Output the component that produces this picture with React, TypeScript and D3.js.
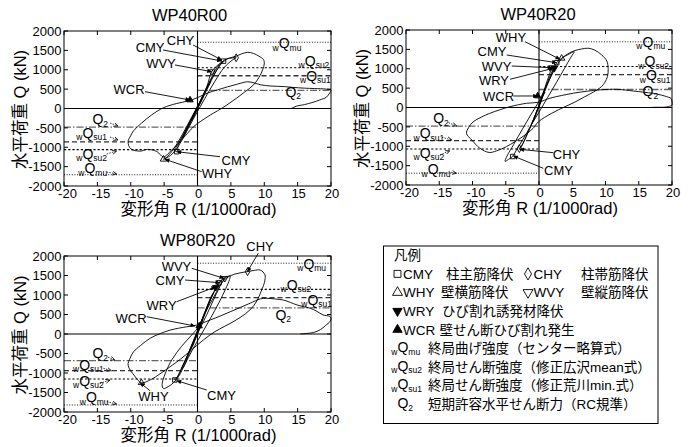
import React from 'react';
import * as d3 from 'd3';

type Pt = [number, number];

// axis ticks
const xTicks = [-20, -15, -10, -5, 0, 5, 10, 15, 20];
const yTicks = [2000, 1500, 1000, 500, 0, -500, -1000, -1500, -2000];

// hysteresis curves, R in 1/1000rad, Q in kN
const curveR00: Pt[] = [
  [0, 0], [0.4, 150], [0.9, 330], [0.6, 250], [0.1, 60], [-0.4, -120], [-0.9, -300], [-0.6, -230], [-0.1, -40],
  [0.5, 160], [1.3, 450], [2.0, 700], [1.7, 640], [0.9, 350], [0, 60], [-0.8, -230], [-1.6, -520], [-2.3, -760], [-2.0, -700], [-1.1, -380], [-0.2, -60],
  [0.6, 230], [1.4, 560], [2.13, 950], [2.9, 1100], [3.9, 1220], [3.5, 1160], [2.5, 870], [1.3, 470], [0.2, 90], [-0.9, -260], [-2.0, -630], [-2.8, -900], [-3.12, -1115], [-3.4, -1080], [-2.5, -820], [-1.2, -400], [0, 20],
  [0.9, 360], [2.0, 760], [3.0, 1080], [4.2, 1270], [5.0, 1300], [5.8, 1310], [5.3, 1260], [4.0, 1060], [2.6, 700], [1.1, 260], [-0.3, -170], [-1.6, -580], [-2.9, -980], [-4.1, -1220], [-5.1, -1310], [-4.7, -1270], [-3.6, -1050], [-2.3, -680], [-0.9, -230], [0.2, 120],
  [1.2, 480], [2.5, 880], [3.6, 1160], [4.6, 1290], [5.8, 1350], [6.6, 1410], [7.5, 1450], [8.4, 1420], [9.2, 1350], [9.9, 1260], [10.0, 1150], [9.8, 1020], [9.4, 860], [8.4, 610], [7.1, 430], [5.8, 260], [4.4, 90], [3.0, -60], [1.9, -170], [0.4, -340], [-0.6, -470], [-1.8, -700], [-3.0, -920], [-4.2, -1130], [-5.1, -1250], [-6.1, -1110], [-7.5, -1055], [-8.6, -1100], [-10.0, -1040], [-10.4, -860],
  [-10.0, -700], [-9.6, -580], [-8.4, -380], [-6.9, -170], [-5.1, 20], [-3.1, 130], [-1.4, 195], [0, 280], [1.5, 400], [3.0, 480], [4.5, 560], [6.0, 630], [7.5, 690], [8.5, 660], [9.5, 610], [11, 580], [13, 565], [14.3, 545], [16, 525], [17.5, 515], [19.3, 500], [20, 470], [19.8, 400], [19.3, 290], [18.3, 220], [17.3, 160], [16, 100], [14.8, 60], [14.3, 20], [14, 0],
];

const curveR20: Pt[] = [
  [0, 0], [0.3, 150], [0.7, 330], [0.9, 400], [0.6, 330], [0.1, 120], [-0.3, -80], [-0.8, -300], [-1.0, -380], [-0.7, -300], [-0.2, -60],
  [0.3, 200], [0.9, 520], [1.5, 820], [2.0, 1030], [2.3, 1010], [2.0, 900], [1.2, 560], [0.2, 140], [-0.8, -300], [-1.8, -700], [-2.6, -980], [-2.96, -1060], [-2.7, -1020], [-1.8, -700], [-0.7, -250], [0.2, 130],
  [1.0, 520], [1.8, 870], [2.3, 1030], [2.66, 1156], [3.4, 1270], [4.3, 1360], [5.3, 1440], [4.8, 1300], [3.8, 1000], [2.6, 640], [1.3, 260], [0, -120], [-1.2, -460], [-2.4, -820], [-3.4, -1100], [-3.96, -1260], [-4.6, -1340], [-5.1, -1390], [-4.8, -1250], [-3.8, -950], [-2.5, -560], [-1.2, -180], [0, 160],
  [1.0, 520], [2.2, 930], [3.4, 1260], [4.5, 1400], [5.4, 1470], [6.4, 1510], [7.4, 1530], [8.4, 1480], [9.4, 1360], [10.2, 1200], [10.4, 1000], [10.3, 800], [9.9, 650], [9.4, 540], [8.2, 400], [6.9, 280], [5.4, 140], [3.9, 20], [1.9, -150], [-0.1, -370], [-0.9, -540], [-2.1, -710], [-3.6, -880], [-4.9, -1010], [-6.4, -1120], [-7.5, -1160], [-8.9, -1050], [-10.1, -840], [-10.9, -670],
  [-10.6, -520], [-9.9, -370], [-8.7, -250], [-7.4, -150], [-5.9, -60], [-4.4, 20], [-3.1, 70], [-1.85, 110], [-0.1, 135], [1.65, 240], [3.4, 310], [5.2, 370], [7.2, 420], [9.2, 455], [10.5, 468], [11.7, 470], [13, 450], [14.2, 425], [15.7, 395], [17.2, 365], [18.4, 320], [19.2, 280], [19.85, 235], [20, 150], [20, 64], [19.5, 25], [18.9, 8], [17.4, 5], [16.8, 0],
];

const curveR80: Pt[] = [
  [0, 0], [0.3, 150], [0.8, 380], [0.5, 280], [0, 80], [-0.5, -150], [-1.0, -380], [-0.7, -300], [-0.2, -80],
  [0.4, 200], [1.2, 550], [2.0, 900], [2.4, 1050], [2.1, 980], [1.1, 560], [0.1, 120], [-0.8, -250], [-1.7, -640], [-2.4, -900], [-2.1, -850], [-1.2, -480], [-0.2, -60],
  [0.6, 300], [1.6, 750], [2.5, 1100], [2.9, 1250], [3.2, 1316], [3.7, 1400], [4.1, 1440], [3.6, 1300], [2.6, 950], [1.4, 500], [0.2, 80], [-0.9, -320], [-2.0, -750], [-2.8, -1050], [-3.4, -1180], [-3.1, -1120], [-2.2, -800], [-1.0, -350], [0.1, 100],
  [1.2, 600], [2.4, 1050], [3.4, 1330], [4.2, 1450], [4.9, 1490], [4.8, 1400], [4.2, 1150], [3.2, 800], [2.0, 420], [0.6, 0], [-0.8, -420], [-1.9, -780], [-2.8, -1080], [-3.6, -1250], [-4.4, -1350], [-5.1, -1400], [-5.3, -1300], [-4.8, -1000], [-3.8, -650], [-2.4, -320], [-1.0, -50], [0, 150],
  [1.2, 560], [2.6, 1000], [3.8, 1350], [5.0, 1500], [6.2, 1560], [7.5, 1600], [8.5, 1630], [9.4, 1640], [10.1, 1520], [10.1, 1380], [9.9, 1250], [9.5, 1080], [9.1, 920], [8.4, 720], [7.2, 520], [5.5, 330], [4.0, 190], [2.6, 60], [0.9, -150], [-0.9, -410], [-2.6, -650], [-4.1, -840], [-5.6, -1020], [-7.0, -1170], [-8.4, -1250], [-9.4, -1080], [-10.4, -800],
  [-10.1, -620], [-9.6, -460], [-8.5, -290], [-7.1, -110], [-5.6, 10], [-4.1, 100], [-2.8, 150], [-1.6, 185], [-0.1, 230], [1.9, 360], [3.4, 460], [4.9, 570], [6.4, 680], [7.9, 790], [9.4, 900], [10.3, 915], [11.5, 900], [12.9, 870], [13.9, 810], [14.9, 745], [15.9, 700], [16.9, 660], [17.9, 580], [18.8, 490], [19.8, 450], [20, 400], [19.85, 320], [19.2, 220], [18.4, 110], [17.4, 40], [16.4, 15], [15.4, 0],
];

// strength levels: wQmu, wQsu2, wQsu1, Q2
const levelKinds = ['mu', 'su2', 'su1', 'q2'];
const posLevelsR00 = [1710, 1050, 845, 470];
const negLevelsR00 = [-1710, -1060, -860, -480];
const posLevelsR20 = [1695, 1060, 850, 465];
const negLevelsR20 = [-1695, -1070, -855, -480];
const posLevelsR80 = [1815, 1145, 932, 670];
const negLevelsR80 = [-1820, -1155, -940, -684];

// level labels on the right [x, y] and on the left [x, y, arrow x1, y1, x2, y2]
const rightLabelsR00 = [[13.0, 1680], [16.9, 1230], [17.1, 850], [14.0, 434]];
const leftLabelsR00 = [
  [-16.1, -1540, -13.6, -1639, -12.1, -1690],
  [-16.4, -1165, -13.6, -1174, -12.1, -1097],
  [-16.4, -632, -13.1, -735, -11.9, -813],
  [-14.9, -271, -13.1, -374, -11.9, -452],
];
const rightLabelsR20 = [[16.4, 1700], [16.7, 1200], [16.9, 830], [16.4, 420]];
const leftLabelsR20 = [
  [-15.9, -1590, -13.6, -1657, -12.4, -1698],
  [-17.1, -1165, -14.9, -1226, -13.4, -1115],
  [-17.1, -660, -14.6, -769, -13.1, -839],
  [-15.1, -279, -13.6, -392, -12.4, -477],
];
const rightLabelsR80 = [[16.7, 1800], [14.2, 1260], [17.3, 880], [12.5, 500]];
const leftLabelsR80 = [
  [-15.9, -1625, -13.6, -1736, -12.1, -1795],
  [-16.9, -1205, -14.6, -1264, -13.1, -1179],
  [-16.9, -790, -14.1, -879, -12.9, -941],
  [-14.9, -495, -13.4, -597, -12.4, -667],
];

// event markers
type Mk = { kind: string; x: number; y: number };
const markersR00: Mk[] = [
  { kind: 'CMY', x: 3.9, y: 1222 }, { kind: 'CHY', x: 5.8, y: 1310 }, { kind: 'WVY', x: 2.13, y: 950 },
  { kind: 'WCR', x: -1.12, y: 219 }, { kind: 'CMY', x: -3.12, y: -1115 }, { kind: 'WHY', x: -5.1, y: -1310 },
];
const markersR20: Mk[] = [
  { kind: 'WHY', x: 3.4, y: 1270 }, { kind: 'CMY', x: 2.66, y: 1156 }, { kind: 'WVY', x: 2.0, y: 1030 },
  { kind: 'WRY', x: 2.3, y: 1010 }, { kind: 'WCR', x: -0.2, y: 297 }, { kind: 'CHY', x: -2.96, y: -1060 },
  { kind: 'CMY', x: -3.96, y: -1265 },
];
const markersR80: Mk[] = [
  { kind: 'CHY', x: 7.5, y: 1598 }, { kind: 'WVY', x: 4.09, y: 1427 }, { kind: 'CMY', x: 3.24, y: 1316 },
  { kind: 'WRY', x: 2.74, y: 1197 }, { kind: 'WCR', x: 0.25, y: 205 }, { kind: 'CMY', x: -3.4, y: -1179 },
  { kind: 'WHY', x: -8.4, y: -1250 },
];

// callouts: label centre and arrow, all in data units
type Note = { text: string; tx: number; ty: number; x1: number; y1: number; x2: number; y2: number };
const notesR00: Note[] = [
  { text: 'CHY', tx: -2.55, ty: 1768, x1: -0.67, y1: 1639, x2: 3.63, y2: 1252 },
  { text: 'CMY', tx: -7.1, ty: 1587, x1: -5.17, y1: 1510, x2: 3.63, y2: 1226 },
  { text: 'WVY', tx: -5.47, ty: 1174, x1: -3.37, y1: 1123, x2: 2.13, y2: 950 },
  { text: 'WCR', tx: -10.26, ty: 503, x1: -7.87, y1: 434, x2: -1.12, y2: 219 },
  { text: 'CMY', tx: 5.77, ty: -1329, x1: 3.37, y1: -1244, x2: -3.12, y2: -1115 },
  { text: 'WHY', tx: 2.92, ty: -1665, x1: 0.63, y1: -1631, x2: -4.87, y2: -1311 },
];
const notesR20: Note[] = [
  { text: 'WHY', tx: -4.21, ty: 1819, x1: -2.1, y1: 1698, x2: 3.16, y2: 1244 },
  { text: 'CMY', tx: -7.07, ty: 1440, x1: -4.86, y1: 1355, x2: 2.66, y2: 1156 },
  { text: 'WVY', tx: -6.39, ty: 1071, x1: -4.1, y1: 1071, x2: 2.0, y2: 1027 },
  { text: 'WRY', tx: -6.77, ty: 710, x1: -4.36, y1: 728, x2: 2.15, y2: 1012 },
  { text: 'WCR', tx: -6.09, ty: 279, x1: -3.86, y1: 297, x2: -0.2, y2: 297 },
  { text: 'CHY', tx: 4.14, ty: -1200, x1: 2.15, y1: -1166, x2: -2.93, y2: -1079 },
  { text: 'CMY', tx: 2.93, ty: -1631, x1: 0.65, y1: -1569, x2: -3.86, y2: -1252 },
];
const notesR80: Note[] = [
  { text: 'CHY', tx: 9.36, ty: 2238, x1: 9.1, y1: 2069, x2: 7.46, y2: 1597 },
  { text: 'WVY', tx: -3.15, ty: 1726, x1: -0.87, y1: 1685, x2: 3.97, y2: 1428 },
  { text: 'CMY', tx: -4.12, ty: 1385, x1: -1.87, y1: 1385, x2: 3.37, y2: 1315 },
  { text: 'WRY', tx: -5.39, ty: 744, x1: -3.12, y1: 828, x2: 2.77, y2: 1213 },
  { text: 'WCR', tx: -9.96, ty: 403, x1: -7.61, y1: 444, x2: -0.37, y2: 205 },
  { text: 'CMY', tx: 3.6, ty: -1564, x1: 1.38, y1: -1436, x2: -3.12, y2: -1197 },
  { text: 'WHY', tx: -6.59, ty: -1608, x1: -7.12, y1: -1454, x2: -8.61, y2: -1249 },
];

const FONT = '"Liberation Sans", Arial, "Noto Sans CJK JP", sans-serif';

const levelStyle: Record<string, { stroke: string; w: number; dash: string }> = {
  mu: { stroke: '#000', w: 0.9, dash: '1,1.6' },
  su2: { stroke: '#000', w: 1.1, dash: '2.2,2' },
  su1: { stroke: '#333', w: 1.3, dash: '5,3' },
  q2: { stroke: '#666', w: 1.3, dash: '7,2,1.5,2' },
};

const symbolFor = (kind: string) => {
  const sq = d3.symbol().type(d3.symbolSquare).size(20)();
  const di = d3.symbol().type(d3.symbolDiamond).size(18)();
  const tr = d3.symbol().type(d3.symbolTriangle).size(18)();
  if (kind === 'CMY') return { d: sq, fill: 'none', rot: 0 };
  if (kind === 'CHY') return { d: di, fill: 'none', rot: 0 };
  if (kind === 'WHY') return { d: tr, fill: 'none', rot: 0 };
  if (kind === 'WVY') return { d: tr, fill: 'none', rot: 180 };
  if (kind === 'WRY') return { d: tr, fill: '#000', rot: 180 };
  return { d: tr, fill: '#000', rot: 0 };
};

const Symbol = ({ kind, cx, cy, scale = 1 }: { kind: string; cx: number; cy: number; scale?: number }) => {
  const s = symbolFor(kind);
  return (
    <path d={s.d as string} transform={`translate(${cx},${cy}) rotate(${s.rot}) scale(${scale})`}
      fill={s.fill} stroke="#000" strokeWidth={0.9 / scale} />
  );
};

const LevelLabel = ({ kind, cx, cy, q = 14 }: { kind: string; cx: number; cy: number; q?: number }) => {
  const sub = kind === 'q2' ? '2' : kind;
  return (
    <g fontFamily={FONT}>
      {kind !== 'q2' && <text x={cx - q * 0.4} y={cy + 7.5} fontSize={8.5} textAnchor="end">w</text>}
      <text x={cx} y={cy} dy="0.36em" fontSize={q} textAnchor="middle">Q</text>
      <text x={cx + q * 0.38} y={cy + 7.5} fontSize={8.5}>{sub}</text>
    </g>
  );
};

type PanelCfg = {
  title: string; titleDx: number; left: number; right: number; top: number; bottom: number;
  curve: Pt[]; pos: number[]; neg: number[]; rightLabels: number[][]; leftLabels: number[][];
  markers: Mk[]; notes: Note[];
};

const Panel = ({ c }: { c: PanelCfg }) => {
  const x = d3.scaleLinear().domain([-20, 20]).range([c.left, c.right]);
  const y = d3.scaleLinear().domain([-2000, 2000]).range([c.bottom, c.top]);
  const line = d3.line<Pt>().x(d => x(d[0])).y(d => y(d[1])).curve(d3.curveCatmullRom.alpha(0.5));
  const cx = (c.left + c.right) / 2;
  const cy = (c.top + c.bottom) / 2;
  return (
    <g>
      <text x={cx + c.titleDx} y={c.top - 10} textAnchor="middle" fontSize={16.5} fontFamily={FONT}>{c.title}</text>
      {/* level lines */}
      {levelKinds.map((k, i) => (
        <g key={k}>
          <line x1={x(0)} x2={x(20)} y1={y(c.pos[i])} y2={y(c.pos[i])} stroke={levelStyle[k].stroke}
            strokeWidth={levelStyle[k].w} strokeDasharray={levelStyle[k].dash} />
          <line x1={x(-20)} x2={x(0)} y1={y(c.neg[i])} y2={y(c.neg[i])} stroke={levelStyle[k].stroke}
            strokeWidth={levelStyle[k].w} strokeDasharray={levelStyle[k].dash} />
        </g>
      ))}
      <line x1={c.left} x2={c.right} y1={y(0)} y2={y(0)} stroke="#000" strokeWidth={1.1} />
      <line x1={x(0)} x2={x(0)} y1={c.top} y2={c.bottom} stroke="#000" strokeWidth={1.1} />
      <path d={line(c.curve) as string} fill="none" stroke="#000" strokeWidth={0.9} />
      {c.markers.map((m, i) => <Symbol key={i} kind={m.kind} cx={x(m.x)} cy={y(m.y)} />)}
      {/* frame and ticks */}
      <rect x={c.left} y={c.top} width={c.right - c.left} height={c.bottom - c.top} fill="none" stroke="#000" strokeWidth={1} />
      {xTicks.map(t => (
        <g key={'x' + t}>
          <line x1={x(t)} x2={x(t)} y1={c.bottom} y2={c.bottom - 4} stroke="#000" />
          <line x1={x(t)} x2={x(t)} y1={c.top} y2={c.top + 4} stroke="#000" />
          <text x={x(t) + (t < 0 ? 3.5 : 1)} y={c.bottom + 12} textAnchor="middle" fontSize={13} fontFamily={FONT}>{t}</text>
        </g>
      ))}
      {yTicks.map(t => (
        <g key={'y' + t}>
          <line x1={c.left} x2={c.left + 4} y1={y(t)} y2={y(t)} stroke="#000" />
          <line x1={c.right} x2={c.right - 4} y1={y(t)} y2={y(t)} stroke="#000" />
          <text x={c.left - 2.5} y={y(t)} dy="0.36em" textAnchor="end" fontSize={13} fontFamily={FONT}>{t}</text>
        </g>
      ))}
      <text x={cx + 1} y={c.bottom + 28.5} textAnchor="middle" fontSize={16.5} fontFamily={FONT}>変形角 R (1/1000rad)</text>
      <text transform={`translate(${c.left - 38.5},${cy + 1}) rotate(-90)`} textAnchor="middle" fontSize={16.5} fontFamily={FONT}>水平荷重 Q (kN)</text>
      {/* callouts */}
      {c.notes.map((n, i) => (
        <g key={'n' + i}>
          <line x1={x(n.x1)} y1={y(n.y1)} x2={x(n.x2)} y2={y(n.y2)} stroke="#000" strokeWidth={0.9} markerEnd="url(#ah)" />
          <text x={x(n.tx)} y={y(n.ty)} dy="0.36em" textAnchor="middle" fontSize={13} fontFamily={FONT}>{n.text}</text>
        </g>
      ))}
      {levelKinds.map((k, i) => (
        <LevelLabel key={'r' + k} kind={k} cx={x(c.rightLabels[i][0])} cy={y(c.rightLabels[i][1])} />
      ))}
      {levelKinds.map((k, i) => {
        const l = c.leftLabels[i];
        return (
          <g key={'l' + k}>
            <LevelLabel kind={k} cx={x(l[0])} cy={y(l[1])} />
            <line x1={x(l[2])} y1={y(l[3])} x2={x(l[4])} y2={y(l[5])} stroke="#000" strokeWidth={0.8}
              strokeDasharray="1.5,1.2" markerEnd="url(#ahs)" />
          </g>
        );
      })}
    </g>
  );
};

const panels: PanelCfg[] = [
  { title: 'WP40R00', titleDx: -8, left: 64, right: 331, top: 31, bottom: 186, curve: curveR00, pos: posLevelsR00, neg: negLevelsR00,
    rightLabels: rightLabelsR00, leftLabels: leftLabelsR00, markers: markersR00, notes: notesR00 },
  { title: 'WP40R20', titleDx: -1, left: 406, right: 672, top: 30, bottom: 185, curve: curveR20, pos: posLevelsR20, neg: negLevelsR20,
    rightLabels: rightLabelsR20, leftLabels: leftLabelsR20, markers: markersR20, notes: notesR20 },
  { title: 'WP80R20', titleDx: 0, left: 64, right: 331, top: 256, bottom: 412, curve: curveR80, pos: posLevelsR80, neg: negLevelsR80,
    rightLabels: rightLabelsR80, leftLabels: leftLabelsR80, markers: markersR80, notes: notesR80 },
];

// legend rows
const legendTitle = '凡例';
const legendPairs = [
  [{ kind: 'CMY', code: 'CMY', desc: '柱主筋降伏' }, { kind: 'CHY', code: 'CHY', desc: '柱帯筋降伏' }],
  [{ kind: 'WHY', code: 'WHY', desc: '壁横筋降伏' }, { kind: 'WVY', code: 'WVY', desc: '壁縦筋降伏' }],
];
const legendSingles = [
  { kind: 'WRY', code: 'WRY', desc: 'ひび割れ誘発材降伏' },
  { kind: 'WCR', code: 'WCR', desc: '壁せん断ひび割れ発生' },
];
const legendLevels = [
  { kind: 'mu', desc: '終局曲げ強度（センター略算式）' },
  { kind: 'su2', desc: '終局せん断強度（修正広沢mean式）' },
  { kind: 'su1', desc: '終局せん断強度（修正荒川min.式）' },
  { kind: 'q2', desc: '短期許容水平せん断力（RC規準）' },
];

const Legend = () => {
  const rowY = d3.scaleLinear().domain([0, 8]).range([255.3, 404]);
  const fs = 13.5;
  return (
    <g fontFamily={FONT} fontSize={fs}>
      <rect x={383.5} y={246} width={274.5} height={177.5} fill="none" stroke="#000" strokeWidth={1} />
      <text x={394} y={rowY(0)} dy="0.36em">{legendTitle}</text>
      {legendPairs.map((pair, r) => pair.map((it, j) => {
        const x0 = j === 0 ? 397.5 : 528;
        return (
          <g key={`${r}-${j}`}>
            <Symbol kind={it.kind} cx={x0} cy={rowY(r + 1)} scale={1.55} />
            <text x={x0 + 5.5} y={rowY(r + 1)} dy="0.36em">{it.code}</text>
            <text x={j === 0 ? (r === 0 ? 446 : 441) : 581} y={rowY(r + 1)} dy="0.36em">{it.desc}</text>
          </g>
        );
      }))}
      {legendSingles.map((it, r) => (
        <g key={it.code}>
          <Symbol kind={it.kind} cx={397.5} cy={rowY(r + 3)} scale={1.45} />
          <text x={403} y={rowY(r + 3)} dy="0.36em">{it.code}</text>
          <text x={r === 0 ? 442 : 439.5} y={rowY(r + 3)} dy="0.36em">{it.desc}</text>
        </g>
      ))}
      {legendLevels.map((it, r) => (
        <g key={it.kind}>
          <LevelLabel kind={it.kind} cx={403} cy={rowY(r + 5) - 1} q={14} />
          <text x={428} y={rowY(r + 5)} dy="0.36em">{it.desc}</text>
        </g>
      ))}
    </g>
  );
};

export default function App() {
  return (
    <svg width={693} height={447} viewBox="0 0 693 447" style={{ position: 'absolute', left: 0, top: 0, background: '#fff' }}>
      <defs>
        <marker id="ah" viewBox="0 0 10 10" refX="10" refY="5" markerWidth="5.5" markerHeight="4.5"
          markerUnits="userSpaceOnUse" orient="auto">
          <path d="M0,0 L10,5 L0,10 z" fill="#000" />
        </marker>
        <marker id="ahs" viewBox="0 0 10 10" refX="9" refY="5" markerWidth="5" markerHeight="5"
          markerUnits="userSpaceOnUse" orient="auto">
          <path d="M0,1 L9,5 L0,9" fill="none" stroke="#000" strokeWidth={1.5} />
        </marker>
      </defs>
      <rect width={693} height={447} fill="#fff" />
      {panels.map(p => <Panel key={p.title} c={p} />)}
      <Legend />
    </svg>
  );
}
